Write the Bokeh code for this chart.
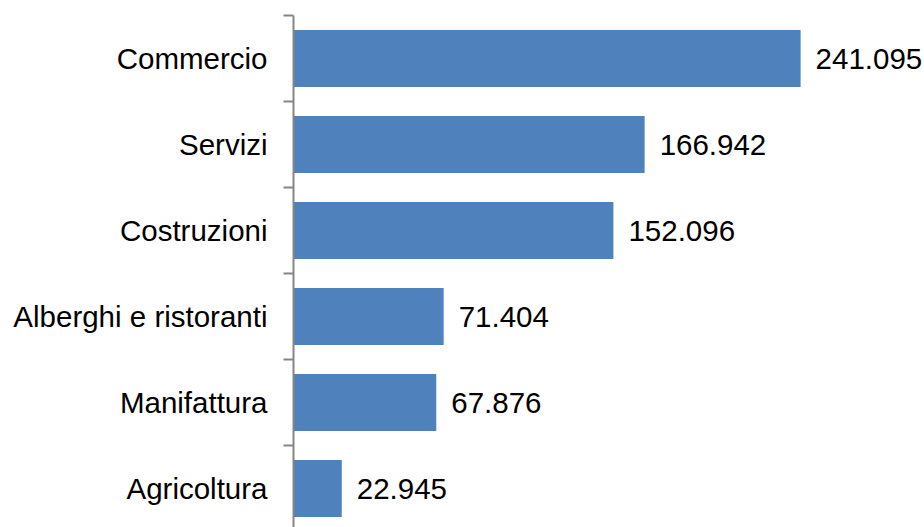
from bokeh.plotting import figure
from bokeh.models import ColumnDataSource, FixedTicker, Range1d
from bokeh.core.properties import value
from bokeh.embed import file_html
from bokeh.resources import INLINE

categories = ["Commercio", "Servizi", "Costruzioni", "Alberghi e ristoranti", "Manifattura", "Agricoltura"]
values = [241.095, 166.942, 152.096, 71.404, 67.876, 22.945]
value_labels = ["241.095", "166.942", "152.096", "71.404", "67.876", "22.945"]

n = len(categories)
ypos = [n - 0.5 - i for i in range(n)]

FONT = "Liberation Sans"
FSIZE = "29.5px"

src = ColumnDataSource(dict(y=ypos, v=values, lab=value_labels))

p = figure(width=924, height=527, output_backend="svg", toolbar_location=None,
           x_range=Range1d(0, 300), y_range=Range1d(n - 512 / 86, n),
           min_border_left=293, min_border_top=15, min_border_bottom=0, min_border_right=0)
p.outline_line_color = None
p.xgrid.visible = False
p.ygrid.visible = False
p.xaxis.visible = False

p.hbar(y="y", right="v", left=0, height=0.66, source=src, color="#4F81BD", line_color=None)
p.text(x="v", y="y", text="lab", source=src, x_offset=15, text_align="left",
       text_baseline="middle", text_font=value(FONT), text_font_size=FSIZE, text_color="black")

ax = p.yaxis[0]
ax.ticker = FixedTicker(ticks=ypos, minor_ticks=list(range(n + 1)))
ax.major_label_overrides = {y: c for y, c in zip(ypos, categories)}
ax.major_tick_line_color = None
ax.major_tick_out = 0
ax.major_tick_in = 0
ax.minor_tick_out = 10
ax.minor_tick_in = 0
ax.minor_tick_line_color = "#868686"
ax.minor_tick_line_width = 2
ax.axis_line_color = "#868686"
ax.axis_line_width = 2
ax.major_label_standoff = 16
ax.major_label_text_font = FONT
ax.major_label_text_font_size = FSIZE
ax.major_label_text_color = "black"

open("out.html", "w").write(file_html(p, INLINE))
